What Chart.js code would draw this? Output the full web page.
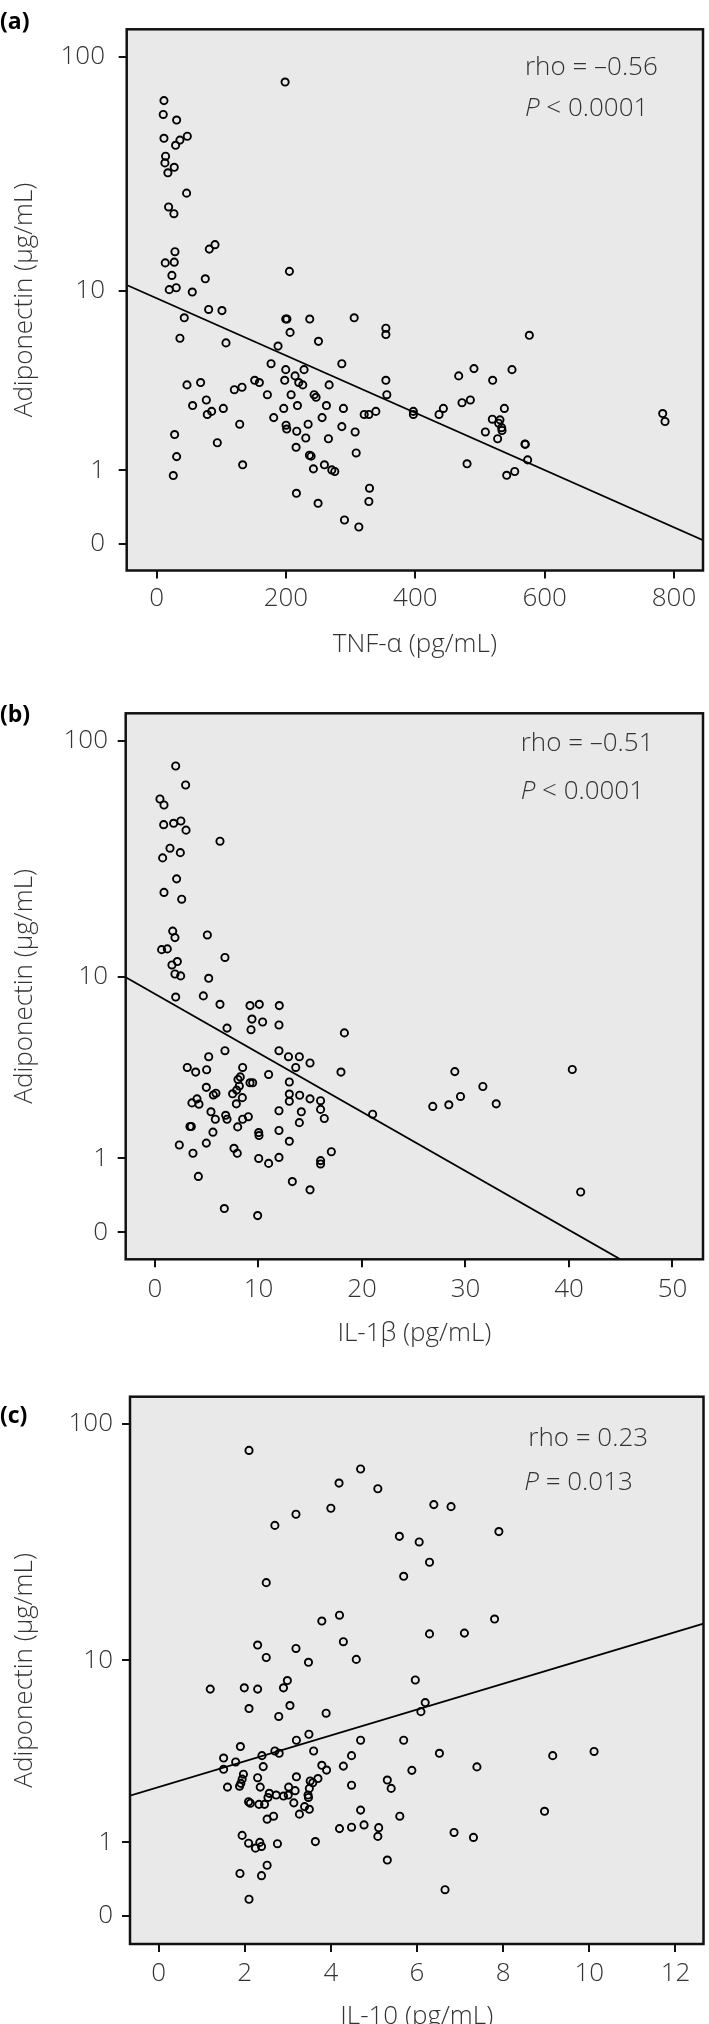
<!DOCTYPE html>
<html>
<head>
<meta charset="utf-8">
<script src="https://cdn.jsdelivr.net/npm/chart.js@4.4.1/dist/chart.umd.min.js"></script>
<style>
  html, body { margin: 0; padding: 0; background: #ffffff; }
  body { width: 709px; height: 2024px; position: relative; overflow: hidden; }
  canvas { position: absolute; left: 0; display: block; }
</style>
</head>
<body>
<canvas id="chartA" width="709" height="680" style="top:0px"></canvas>
<canvas id="chartB" width="709" height="680" style="top:680px"></canvas>
<canvas id="chartC" width="709" height="690" style="top:1360px"></canvas>
<script>
// ---------------- DATA ----------------
// y axis: Adiponectin (µg/mL), drawn on a log10(value + 1) axis
const Y_TICK_LABELS = [0, 1, 10, 100];

// (a) TNF-α
const TNF_TICKS = [0, 200, 400, 600, 800];
const TNF_X = [198.7,11.4,10.3,31.0,11.4,47.5,36.1,29.4,13.9,12.9,27.3,17.5,46.4,18.6,26.8,28.4,81.5,90.3,13.4,27.3,23.7,75.3,205.4,19.6,30.4,55.2,80.5,101.1,42.8,199.7,201.5,236.8,305.5,
  354.5,354.5,206.4,36.1,107.3,250.3,187.8,177.0,286.4,199.7,228.0,214.1,198.1,219.8,226.0,354.5,151.7,158.9,47.0,68.1,266.8,356.0,120.2,132.1,171.3,208.0,243.6,246.6,76.9,55.7,85.1,78.4,103.2,217.8,196.6,262.6,288.9,181.1,255.9,321.0,328.2,339.0,128.5,200.2,201.2,234.3,286.4,216.7,307.0,27.9,93.9,230.7,265.7,215.7,236.3,238.9,308.6,31.0,133.1,242.5,259.5,270.9,275.5,25.8,216.2,249.7,329.2,328.2,290.5,312.7,
  576.3,490.7,549.5,467.1,519.6,485.1,472.2,443.4,436.7,537.7,519.1,530.9,528.9,533.5,534.1,508.3,527.3,569.6,570.0,573.7,480.0,541.3,553.7,782.5,786.1,397.0,397.0];
const TNF_ADIPONECTIN = [78.4,65.6,57.4,54.4,45.6,46.5,44.8,42.6,38.3,35.9,34.4,32.6,26.7,23.3,21.8,14.9,15.3,16.0,13.3,13.4,11.7,11.3,12.2,10.1,10.3,9.85,8.2,8.1,7.5,7.4,7.4,7.4,7.5,
  6.7,6.25,6.4,6.0,5.7,5.8,5.5,4.5,4.5,4.2,4.2,3.9,3.7,3.6,3.5,3.7,3.7,3.6,3.5,3.6,3.5,3.1,3.3,3.4,3.1,3.1,3.1,3.0,2.9,2.7,2.5,2.4,2.6,2.7,2.6,2.7,2.6,2.3,2.3,2.4,2.4,2.5,2.1,2.07,1.96,2.1,2.03,1.9,1.88,1.81,1.6,1.72,1.7,1.49,1.31,1.29,1.36,1.28,1.11,1.03,1.11,1.01,0.98,0.905,0.61,0.465,0.69,0.49,0.25,0.17,
  6.2,4.25,4.2,3.9,3.7,2.9,2.8,2.6,2.4,2.6,2.25,2.23,2.13,2.0,1.92,1.88,1.7,1.57,1.56,1.21,1.13,0.91,0.98,2.43,2.18,2.5,2.4];
const TNF_FIT = [1.0098, -0.001179];   // intercept, slope of log10(adiponectin+1)

// (b) IL-1β
const IL1B_TICKS = [0, 10, 20, 30, 40, 50];
const IL1B_X = [2.0,2.96,0.48,0.87,0.84,1.8,2.5,3.0,6.28,1.45,0.74,2.45,2.09,0.87,2.58,1.71,1.93,5.06,0.64,1.19,6.76,1.64,2.16,1.93,2.48,5.19,
  2.0,4.67,6.28,9.18,10.08,12.01,9.37,10.4,9.28,11.98,6.96,18.3,
  6.76,5.19,11.98,12.9,13.95,14.98,13.6,3.12,3.93,4.99,8.47,10.98,17.97,
  12.98,8.02,8.24,9.18,9.44,8.15,4.96,
  5.64,5.89,7.5,7.89,8.44,4.06,3.57,4.25,7.86,12.98,12.98,13.98,14.98,16.0,16.0,16.36,14.14,21.03,
  5.41,5.83,6.83,6.96,9.02,8.47,7.99,11.98,13.95,3.38,3.51,
  5.6,10.02,10.05,11.98,12.98,4.96,2.35,3.67,7.63,7.95,
  10.02,10.98,11.98,16.0,16.0,17.04,
  4.19,13.27,14.98,6.7,9.92,
  28.97,40.32,31.68,29.52,26.84,28.39,32.97,41.13];
const IL1B_ADIPONECTIN = [78.6,65.6,57.4,54.2,44.9,45.5,46.5,42.6,38.3,35.8,32.6,34.3,26.6,23.3,21.8,15.9,14.9,15.3,13.2,13.3,12.2,11.3,11.7,10.3,10.1,9.85,
  8.1,8.2,7.5,7.4,7.5,7.4,6.4,6.2,5.7,6.0,5.8,5.5,
  4.5,4.2,4.5,4.2,4.2,3.9,3.7,3.7,3.5,3.6,3.7,3.4,3.5,
  3.1,3.2,3.3,3.07,3.07,2.95,2.9,
  2.63,2.69,2.67,2.8,2.54,2.5,2.37,2.33,2.34,2.66,2.42,2.62,2.5,2.44,2.17,1.91,2.1,2.03,
  2.1,1.89,2.0,1.89,1.96,1.89,1.69,2.13,1.80,1.70,1.70,
  1.56,1.55,1.48,1.6,1.35,1.31,1.27,1.10,1.20,1.10,
  1.0,0.91,1.02,0.96,0.90,1.13,
  0.69,0.61,0.49,0.25,0.17,
  3.52,3.61,2.93,2.58,2.26,2.31,2.34,0.46];
const IL1B_FIT = [0.9714, -0.02405];

// (c) IL-10
const IL10_TICKS = [0, 2, 4, 6, 8, 10, 12];
const IL10_X = [2.10,4.69,4.19,5.09,4.00,3.19,2.70,5.59,6.05,5.69,2.50,4.20,3.79,2.30,4.29,3.19,2.50,3.48,4.59,5.96,2.99,
  6.39,6.79,7.90,6.29,7.80,6.29,7.10,6.19,6.09,6.52,7.39,9.15,10.11,8.96,6.86,7.31,6.65,
  1.20,1.99,2.30,2.90,2.10,3.05,2.79,3.89,3.49,3.20,4.69,5.69,1.90,2.70,2.80,3.60,1.51,1.79,2.40,4.48,
  1.51,2.43,3.79,3.90,4.29,5.88,1.97,1.94,1.91,1.88,2.30,3.20,3.52,3.58,3.70,1.60,2.36,3.02,3.50,3.17,
  4.48,5.31,5.40,2.57,2.73,2.90,3.01,3.47,3.48,2.54,2.09,2.13,2.33,2.46,3.14,3.39,3.50,3.27,4.69,5.60,
  2.52,2.67,4.20,4.48,4.77,5.11,5.09,1.94,2.09,2.35,2.39,2.25,2.76,3.64,5.31,1.89,2.52,2.39,2.10];
const IL10_ADIPONECTIN = [77.8,65.2,57.0,54.0,44.8,42.3,38.0,34.2,32.4,23.2,21.8,15.8,14.9,11.7,12.1,11.3,10.3,9.8,10.1,8.15,8.1,
  46.4,45.5,35.8,26.6,15.2,13.1,13.2,6.4,5.8,3.6,3.05,3.5,3.68,1.67,1.19,1.09,0.28,
  7.4,7.5,7.4,7.5,6.0,6.2,5.5,5.7,4.5,4.2,4.2,4.2,3.9,3.7,3.6,3.7,3.4,3.24,3.5,3.5,
  2.96,3.06,3.11,2.93,3.08,2.92,2.78,2.61,2.47,2.38,2.66,2.69,2.55,2.49,2.63,2.35,2.35,2.35,2.31,2.24,
  2.41,2.58,2.31,2.16,2.11,2.08,2.11,2.11,2.04,2.04,1.92,1.88,1.85,1.85,1.89,1.79,1.72,1.60,1.70,1.55,
  1.48,1.55,1.27,1.30,1.35,1.29,1.11,1.13,0.98,0.995,0.92,0.89,0.97,1.01,0.69,0.49,0.61,0.46,0.17];
const IL10_FIT = [0.5251, 0.05261];

// ---------------- RENDERING ----------------
const FONT = "'Open Sans', 'Noto Sans', 'DejaVu Sans', sans-serif";
const toT = v => Math.log10(v + 1);
const TXT = '#333333';

const decorPlugin = {
  id: 'panelDecor',
  beforeDraw(chart) {
    const { ctx, chartArea: a } = chart;
    ctx.save();
    ctx.fillStyle = '#e9e9e9';
    ctx.fillRect(a.left, a.top, a.right - a.left, a.bottom - a.top);
    ctx.restore();
  },
  afterDraw(chart, args, o) {
    const { ctx, chartArea: a } = chart;
    ctx.save();
    ctx.strokeStyle = '#111';
    ctx.lineWidth = 2.5;
    ctx.strokeRect(a.left, a.top, a.right - a.left, a.bottom - a.top);
    ctx.textBaseline = 'middle';
    ctx.textAlign = 'left';
    ctx.fillStyle = '#000';
    ctx.font = 'bold 23px ' + FONT;
    ctx.fillText(o.label, o.labelX, o.labelY);
    ctx.fillStyle = TXT;
    ctx.font = '300 26px ' + FONT;
    ctx.fillText(o.rho, o.rhoX, o.rhoY);
    ctx.font = 'italic 300 26px ' + FONT;
    ctx.fillText(o.pSym, o.pX, o.pY);
    const w = ctx.measureText(o.pSym).width;
    ctx.font = '300 26px ' + FONT;
    ctx.fillText(o.pRest, o.pX + w, o.pY);
    ctx.restore();
  }
};

function makePanel(id, c) {
  const pts = c.x.map((x, i) => ({ x: x, y: toT(c.y[i]) }));
  const line = [c.xMin, c.xMax].map(x => ({ x: x, y: c.fit[0] + c.fit[1] * x }));
  const tickFont = { family: FONT, size: 26, weight: '300' };
  const grid = { display: true, drawOnChartArea: false, drawTicks: true, tickLength: 8, color: '#111', lineWidth: 2 };
  new Chart(document.getElementById(id), {
    type: 'scatter',
    data: {
      datasets: [
        { type: 'line', data: line, borderColor: '#000', borderWidth: 1.8, pointRadius: 0, fill: false, order: 2 },
        { data: pts, pointRadius: 3.6, pointHoverRadius: 3.6, borderWidth: 1.9, borderColor: '#000',
          backgroundColor: 'rgba(0,0,0,0)', order: 1 }
      ]
    },
    options: {
      responsive: false,
      animation: false,
      events: [],
      layout: { padding: { top: c.padTop, right: c.padRight, left: 0, bottom: 0 } },
      plugins: {
        legend: { display: false },
        tooltip: { enabled: false },
        panelDecor: c.decor
      },
      scales: {
        x: {
          type: 'linear', min: c.xMin, max: c.xMax,
          afterBuildTicks: s => { s.ticks = c.xTicks.map(v => ({ value: v })); },
          afterFit: s => { s.height = c.xAxisH; },
          grid: grid, border: { display: false },
          ticks: { font: tickFont, color: TXT, padding: c.xTickPad, maxRotation: 0, autoSkip: false },
          title: { display: true, text: c.xTitle, font: tickFont, color: TXT, padding: { top: 0, bottom: c.xTitlePad } }
        },
        y: {
          type: 'linear', min: c.yMin, max: c.yMax,
          afterBuildTicks: s => { s.ticks = Y_TICK_LABELS.map(v => ({ value: toT(v) })); },
          afterFit: s => { s.width = c.yAxisW; },
          grid: grid, border: { display: false },
          ticks: { font: tickFont, color: TXT, padding: c.yTickPad, autoSkip: false,
                   callback: (v, i) => String(Y_TICK_LABELS[i]) },
          title: { display: true, text: 'Adiponectin (μg/mL)', font: tickFont, color: TXT, padding: { top: 9.4, bottom: 0 } }
        }
      }
    },
    plugins: [decorPlugin]
  });
}

makePanel('chartA', {
  x: TNF_X, y: TNF_ADIPONECTIN, fit: TNF_FIT, xTicks: TNF_TICKS, xTitle: 'TNF-α (pg/mL)',
  xMin: -46.2, xMax: 844.8, yMin: -0.1109, yMax: 2.117,
  padTop: 24, padRight: 6, yAxisW: 126.7, xAxisH: 109.5,
  xTickPad: 4.2, xTitlePad: 19.4, yTickPad: 13.7,
  decor: { label: '(a)', labelX: 0, labelY: 22, rho: 'rho = –0.56', rhoX: 525, rhoY: 67.7,
           pSym: 'P', pRest: ' < 0.0001', pX: 525, pY: 108.9 }
});

makePanel('chartB', {
  x: IL1B_X, y: IL1B_ADIPONECTIN, fit: IL1B_FIT, xTicks: IL1B_TICKS, xTitle: 'IL-1β (pg/mL)',
  xMin: -2.83, xMax: 52.95, yMin: -0.110, yMax: 2.1158,
  padTop: 33.3, padRight: 6, yAxisW: 125.7, xAxisH: 100.7,
  xTickPad: 6.4, xTitlePad: 11.1, yTickPad: 9.7,
  decor: { label: '(b)', labelX: 0, labelY: 35.6, rho: 'rho = –0.51', rhoX: 520.7, rhoY: 64,
           pSym: 'P', pRest: ' < 0.0001', pX: 520.7, pY: 111.8 }
});

makePanel('chartC', {
  x: IL10_X, y: IL10_ADIPONECTIN, fit: IL10_FIT, xTicks: IL10_TICKS, xTitle: 'IL-10 (pg/mL)',
  xMin: -0.663, xMax: 12.65, yMin: -0.114, yMax: 2.1153,
  padTop: 36.7, padRight: 3, yAxisW: 130, xAxisH: 106,
  xTickPad: 5.7, xTitlePad: 17.7, yTickPad: 9,
  decor: { label: '(c)', labelX: 0, labelY: 56.3, rho: 'rho = 0.23', rhoX: 528.3, rhoY: 78.5,
           pSym: 'P', pRest: ' = 0.013', pX: 524.3, pY: 122.3 }
});
</script>
</body>
</html>
